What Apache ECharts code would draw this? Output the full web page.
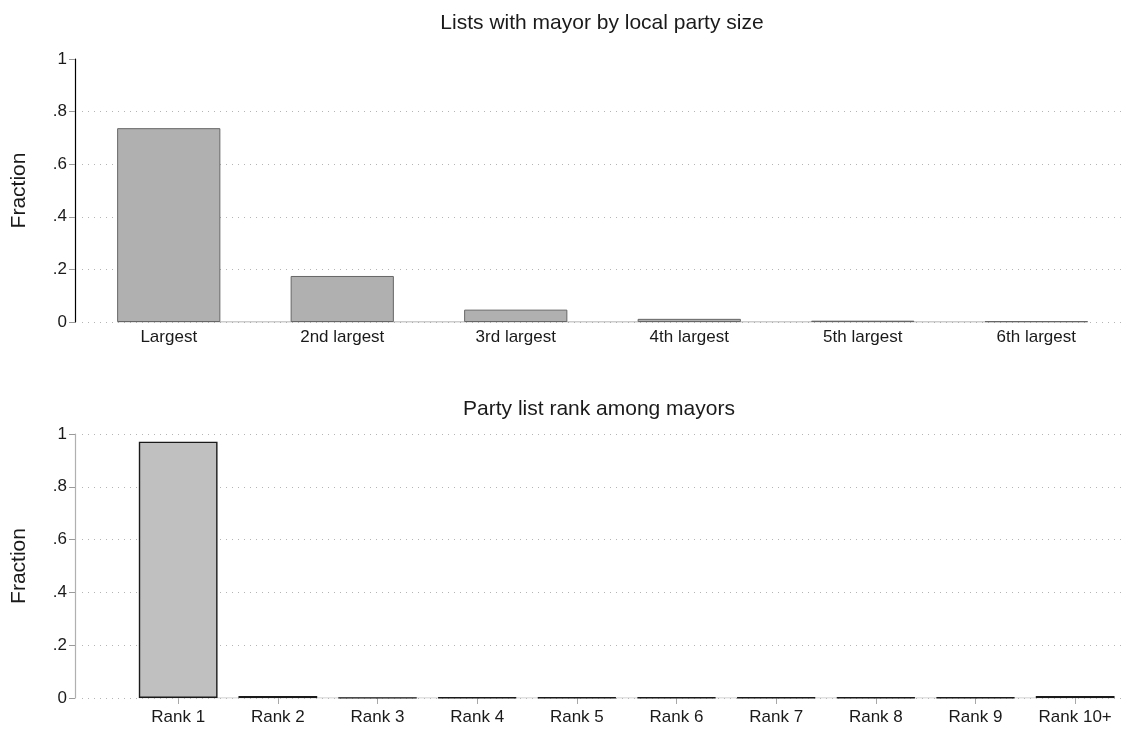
<!DOCTYPE html>
<html>
<head>
<meta charset="utf-8">
<title>Mayors by party list size and rank</title>
<script src="https://cdn.jsdelivr.net/npm/echarts@6/dist/echarts.min.js"></script>
<style>
  html, body { margin: 0; padding: 0; background: #fff; }
  #chart { width: 1126px; height: 733px; }
</style>
</head>
<body>
<div id="chart"></div>
<script>
// Panel 1: share of mayors coming from the local list of each size rank
const SIZE_CATEGORIES = ['Largest', '2nd largest', '3rd largest', '4th largest', '5th largest', '6th largest'];
const SIZE_FRACTION = [0.737, 0.175, 0.047, 0.012, 0.005, 0.003];

// Panel 2: the mayor's position on the party list
const RANK_POSITIONS = [1, 2, 3, 4, 5, 6, 7, 8, 9, 10];
const RANK_LABELS = ['Rank 1', 'Rank 2', 'Rank 3', 'Rank 4', 'Rank 5', 'Rank 6', 'Rank 7', 'Rank 8', 'Rank 9', 'Rank 10+'];
const RANK_FRACTION = [0.971, 0.008, 0.001, 0.002, 0.002, 0.002, 0.002, 0.002, 0.002, 0.008];

// Shared y-axis ticks
const Y_TICKS = [0, 0.2, 0.4, 0.6, 0.8, 1];

const FONT = '"Liberation Sans", Arial, Helvetica, sans-serif';
const TOP_BAR_FRAC = 0.595;   // bar width as share of a category band
const RANK_BAR_FRAC = 0.79;   // bar width in x units on the rank axis

const fmtFrac = v => (v === 0 ? '0' : v === 1 ? '1' : String(+v.toFixed(1)).replace(/^0/, ''));

const dotted = { color: '#b4b4b4', width: 1, type: [1, 5] };

function yAxisFor(gridIndex, lineColor, showMax) {
  return {
    type: 'value', gridIndex: gridIndex, min: Y_TICKS[0], max: Y_TICKS[Y_TICKS.length - 1], interval: 0.2,
    offset: 7,
    name: 'Fraction', nameLocation: 'middle', nameGap: 45,
    nameTextStyle: { fontFamily: FONT, fontSize: 21, color: '#1a1a1a' },
    axisLine: { show: true, onZero: false, lineStyle: { color: lineColor, width: 1.2 } },
    axisTick: { show: true, length: 6, lineStyle: { color: '#9a9a9a' } },
    axisLabel: { fontFamily: FONT, fontSize: 17, color: '#1a1a1a', margin: 8, formatter: fmtFrac },
    splitLine: { show: true, showMinLine: true, showMaxLine: showMax, lineStyle: dotted }
  };
}

const chart = echarts.init(document.getElementById('chart'), null, { renderer: 'canvas' });

const nSize = SIZE_CATEGORIES.length;
const halfTop = TOP_BAR_FRAC / 2;
const halfRank = RANK_BAR_FRAC / 2;

chart.setOption({
  animation: false,
  backgroundColor: '#ffffff',
  title: [
    { text: 'Lists with mayor by local party size', left: 597, top: 8, textAlign: 'center',
      textStyle: { fontFamily: FONT, fontSize: 21, fontWeight: 'normal', color: '#1a1a1a' } },
    { text: 'Party list rank among mayors', left: 594, top: 394, textAlign: 'center',
      textStyle: { fontFamily: FONT, fontSize: 21, fontWeight: 'normal', color: '#1a1a1a' } }
  ],
  grid: [
    { left: 82, right: 3, top: 59, height: 263 },
    { left: 82, right: 3, top: 434, height: 264 }
  ],
  xAxis: [
    { type: 'category', gridIndex: 0, data: SIZE_CATEGORIES,
      axisLine: { show: false }, axisTick: { show: false },
      axisLabel: { fontFamily: FONT, fontSize: 17, color: '#1a1a1a', margin: 7 } },
    // hidden continuous twin of the category axis, used for the baseline segment
    { type: 'value', gridIndex: 0, min: -0.5, max: nSize - 0.5, show: false },
    { type: 'value', gridIndex: 1, min: 0.035, max: 10.48,
      axisLine: { show: false },
      axisTick: { show: true, length: 6, customValues: RANK_POSITIONS, lineStyle: { color: '#a8a8a8' } },
      axisLabel: { fontFamily: FONT, fontSize: 17, color: '#1a1a1a', margin: 11,
        customValues: RANK_POSITIONS, formatter: v => RANK_LABELS[RANK_POSITIONS.indexOf(v)] },
      splitLine: { show: false } }
  ],
  yAxis: [
    yAxisFor(0, '#000000', false),
    yAxisFor(1, '#b0b0b0', true)
  ],
  series: [
    { type: 'line', xAxisIndex: 1, yAxisIndex: 0, z: 1, symbol: 'none', silent: true,
      data: [[-halfTop, 0], [nSize - 1 + halfTop, 0]],
      lineStyle: { color: '#9c9c9c', width: 1.2 } },
    { type: 'bar', xAxisIndex: 0, yAxisIndex: 0, z: 3, data: SIZE_FRACTION,
      barWidth: (TOP_BAR_FRAC * 100) + '%',
      itemStyle: { color: '#b0b0b0', borderColor: '#666666', borderWidth: 1 } },
    { type: 'line', xAxisIndex: 2, yAxisIndex: 1, z: 1, symbol: 'none', silent: true,
      data: [[RANK_POSITIONS[0] - halfRank, 0], [RANK_POSITIONS[RANK_POSITIONS.length - 1] + halfRank, 0]],
      lineStyle: { color: '#c4c4c4', width: 1.2 } },
    { type: 'bar', xAxisIndex: 2, yAxisIndex: 1, z: 3,
      data: RANK_POSITIONS.map((p, i) => [p, RANK_FRACTION[i]]),
      barWidth: (RANK_BAR_FRAC * 100) + '%',
      itemStyle: { color: '#c0c0c0', borderColor: '#1a1a1a', borderWidth: 1.4 } }
  ]
});
</script>
</body>
</html>
